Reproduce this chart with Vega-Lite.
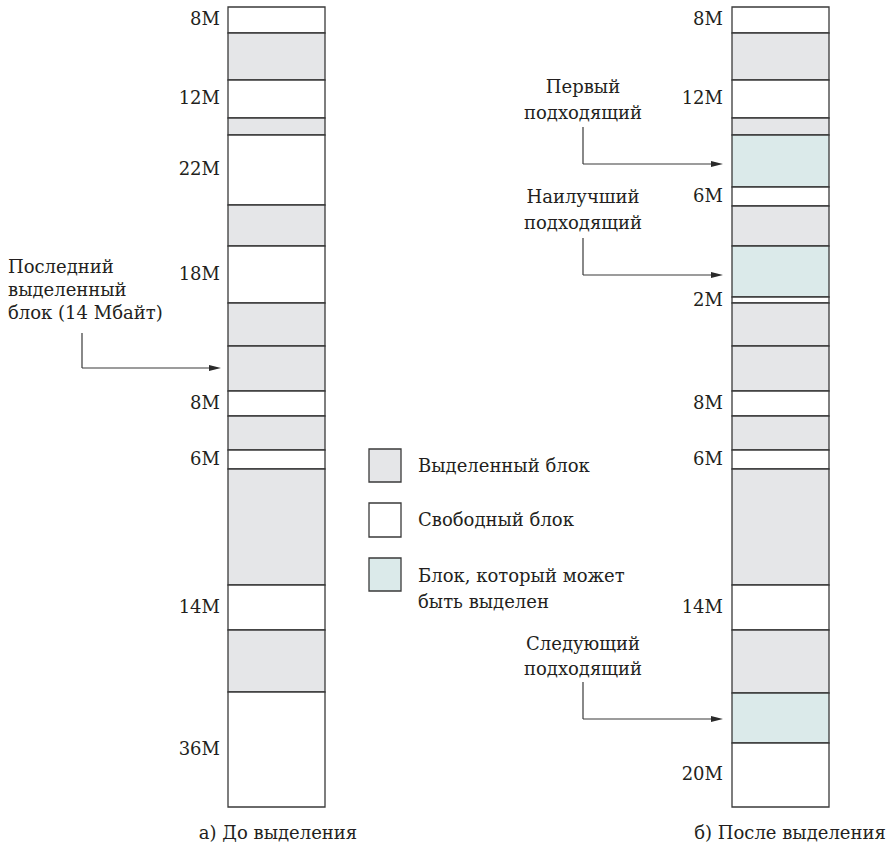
{
  "$schema": "https://vega.github.io/schema/vega-lite/v6.json",
  "width": 890,
  "height": 847,
  "padding": 0,
  "autosize": {"type": "fit", "contains": "padding"},
  "background": "white",
  "config": {"view": {"stroke": null}, "text": {"font": "DejaVu Serif", "fontSize": 18, "color": "#231f20"}},
  "datasets": {
    "blocks": [
      {"x": 228, "x2": 325, "y": 7, "y2": 33, "kind": "free"},
      {"x": 228, "x2": 325, "y": 33, "y2": 80, "kind": "alloc"},
      {"x": 228, "x2": 325, "y": 80, "y2": 118, "kind": "free"},
      {"x": 228, "x2": 325, "y": 118, "y2": 135, "kind": "alloc"},
      {"x": 228, "x2": 325, "y": 135, "y2": 205, "kind": "free"},
      {"x": 228, "x2": 325, "y": 205, "y2": 246, "kind": "alloc"},
      {"x": 228, "x2": 325, "y": 246, "y2": 303, "kind": "free"},
      {"x": 228, "x2": 325, "y": 303, "y2": 346, "kind": "alloc"},
      {"x": 228, "x2": 325, "y": 346, "y2": 391, "kind": "alloc"},
      {"x": 228, "x2": 325, "y": 391, "y2": 416, "kind": "free"},
      {"x": 228, "x2": 325, "y": 416, "y2": 450, "kind": "alloc"},
      {"x": 228, "x2": 325, "y": 450, "y2": 469, "kind": "free"},
      {"x": 228, "x2": 325, "y": 469, "y2": 585, "kind": "alloc"},
      {"x": 228, "x2": 325, "y": 585, "y2": 630, "kind": "free"},
      {"x": 228, "x2": 325, "y": 630, "y2": 692, "kind": "alloc"},
      {"x": 228, "x2": 325, "y": 692, "y2": 807, "kind": "free"},
      {"x": 732, "x2": 829, "y": 7, "y2": 33, "kind": "free"},
      {"x": 732, "x2": 829, "y": 33, "y2": 80, "kind": "alloc"},
      {"x": 732, "x2": 829, "y": 80, "y2": 118, "kind": "free"},
      {"x": 732, "x2": 829, "y": 118, "y2": 135, "kind": "alloc"},
      {"x": 732, "x2": 829, "y": 135, "y2": 187, "kind": "cand"},
      {"x": 732, "x2": 829, "y": 187, "y2": 206, "kind": "free"},
      {"x": 732, "x2": 829, "y": 206, "y2": 246, "kind": "alloc"},
      {"x": 732, "x2": 829, "y": 246, "y2": 297, "kind": "cand"},
      {"x": 732, "x2": 829, "y": 297, "y2": 303, "kind": "free"},
      {"x": 732, "x2": 829, "y": 303, "y2": 346, "kind": "alloc"},
      {"x": 732, "x2": 829, "y": 346, "y2": 391, "kind": "alloc"},
      {"x": 732, "x2": 829, "y": 391, "y2": 416, "kind": "free"},
      {"x": 732, "x2": 829, "y": 416, "y2": 450, "kind": "alloc"},
      {"x": 732, "x2": 829, "y": 450, "y2": 469, "kind": "free"},
      {"x": 732, "x2": 829, "y": 469, "y2": 585, "kind": "alloc"},
      {"x": 732, "x2": 829, "y": 585, "y2": 630, "kind": "free"},
      {"x": 732, "x2": 829, "y": 630, "y2": 693, "kind": "alloc"},
      {"x": 732, "x2": 829, "y": 693, "y2": 743, "kind": "cand"},
      {"x": 732, "x2": 829, "y": 743, "y2": 807, "kind": "free"},
      {"x": 369, "x2": 401, "y": 449, "y2": 482, "kind": "alloc"},
      {"x": 369, "x2": 401, "y": 503, "y2": 537, "kind": "free"},
      {"x": 369, "x2": 401, "y": 558, "y2": 591, "kind": "cand"}
    ],
    "sizes": [
      {"x": 220, "y": 20, "text": "8M"},
      {"x": 220, "y": 99, "text": "12M"},
      {"x": 220, "y": 170, "text": "22M"},
      {"x": 220, "y": 274.5, "text": "18M"},
      {"x": 220, "y": 403.5, "text": "8M"},
      {"x": 220, "y": 459.5, "text": "6M"},
      {"x": 220, "y": 607.5, "text": "14M"},
      {"x": 220, "y": 750, "text": "36M"},
      {"x": 723, "y": 20, "text": "8M"},
      {"x": 723, "y": 99, "text": "12M"},
      {"x": 723, "y": 196.5, "text": "6M"},
      {"x": 723, "y": 301, "text": "2M"},
      {"x": 723, "y": 403.5, "text": "8M"},
      {"x": 723, "y": 459.5, "text": "6M"},
      {"x": 723, "y": 607.5, "text": "14M"},
      {"x": 723, "y": 775, "text": "20M"}
    ],
    "lefttexts": [
      {"x": 8, "y": 268, "text": "Последний"},
      {"x": 8, "y": 291, "text": "выделенный"},
      {"x": 8, "y": 314, "text": "блок (14 Мбайт)"},
      {"x": 418, "y": 467, "text": "Выделенный блок"},
      {"x": 418, "y": 521, "text": "Свободный блок"},
      {"x": 418, "y": 577, "text": "Блок, который может"},
      {"x": 418, "y": 603, "text": "быть выделен"}
    ],
    "centertexts": [
      {"x": 583, "y": 88, "text": "Первый"},
      {"x": 583, "y": 114, "text": "подходящий"},
      {"x": 583, "y": 198, "text": "Наилучший"},
      {"x": 583, "y": 224, "text": "подходящий"},
      {"x": 583, "y": 645, "text": "Следующий"},
      {"x": 583, "y": 670, "text": "подходящий"},
      {"x": 278, "y": 834, "text": "а) До выделения"},
      {"x": 790, "y": 834, "text": "б) После выделения"}
    ],
    "lines": [
      {"x": 82, "x2": 82, "y": 333, "y2": 368},
      {"x": 82, "x2": 212, "y": 368, "y2": 368},
      {"x": 583, "x2": 583, "y": 127, "y2": 164},
      {"x": 583, "x2": 714, "y": 164, "y2": 164},
      {"x": 583, "x2": 583, "y": 238, "y2": 275},
      {"x": 583, "x2": 714, "y": 275, "y2": 275},
      {"x": 583, "x2": 583, "y": 682, "y2": 719},
      {"x": 583, "x2": 714, "y": 719, "y2": 719}
    ],
    "heads": [
      {"x": 221, "y": 368},
      {"x": 723, "y": 164},
      {"x": 723, "y": 275},
      {"x": 723, "y": 719}
    ]
  },
  "layer": [
    {
      "data": {"name": "blocks"},
      "mark": {"type": "rect", "stroke": "#3a3a3a", "strokeWidth": 1.3},
      "encoding": {
        "x": {"field": "x", "type": "quantitative", "scale": {"domain": [0, 890], "nice": false, "zero": false}, "axis": null},
        "x2": {"field": "x2"},
        "y": {"field": "y", "type": "quantitative", "scale": {"domain": [0, 847], "nice": false, "zero": false, "reverse": true}, "axis": null},
        "y2": {"field": "y2"},
        "fill": {"field": "kind", "type": "nominal", "scale": {"domain": ["alloc", "free", "cand"], "range": ["#e5e6e8", "#ffffff", "#dbeaea"]}, "legend": null}
      }
    },
    {
      "data": {"name": "lines"},
      "mark": {"type": "rule", "color": "#3a3a3a", "strokeWidth": 1.2},
      "encoding": {
        "x": {"field": "x", "type": "quantitative"},
        "x2": {"field": "x2"},
        "y": {"field": "y", "type": "quantitative"},
        "y2": {"field": "y2"}
      }
    },
    {
      "data": {"name": "heads"},
      "mark": {"type": "point", "shape": "M0,0L-2,-0.5L-2,0.5Z", "filled": true, "color": "#2a2a2a", "opacity": 1, "size": 144},
      "encoding": {
        "x": {"field": "x", "type": "quantitative"},
        "y": {"field": "y", "type": "quantitative"}
      }
    },
    {
      "data": {"name": "sizes"},
      "mark": {"type": "text", "align": "right", "baseline": "middle", "font": "DejaVu Serif", "fontSize": 18},
      "encoding": {
        "x": {"field": "x", "type": "quantitative"},
        "y": {"field": "y", "type": "quantitative"},
        "text": {"field": "text"}
      }
    },
    {
      "data": {"name": "lefttexts"},
      "mark": {"type": "text", "align": "left", "baseline": "middle", "font": "DejaVu Serif", "fontSize": 18},
      "encoding": {
        "x": {"field": "x", "type": "quantitative"},
        "y": {"field": "y", "type": "quantitative"},
        "text": {"field": "text"}
      }
    },
    {
      "data": {"name": "centertexts"},
      "mark": {"type": "text", "align": "center", "baseline": "middle", "font": "DejaVu Serif", "fontSize": 18},
      "encoding": {
        "x": {"field": "x", "type": "quantitative"},
        "y": {"field": "y", "type": "quantitative"},
        "text": {"field": "text"}
      }
    }
  ]
}
